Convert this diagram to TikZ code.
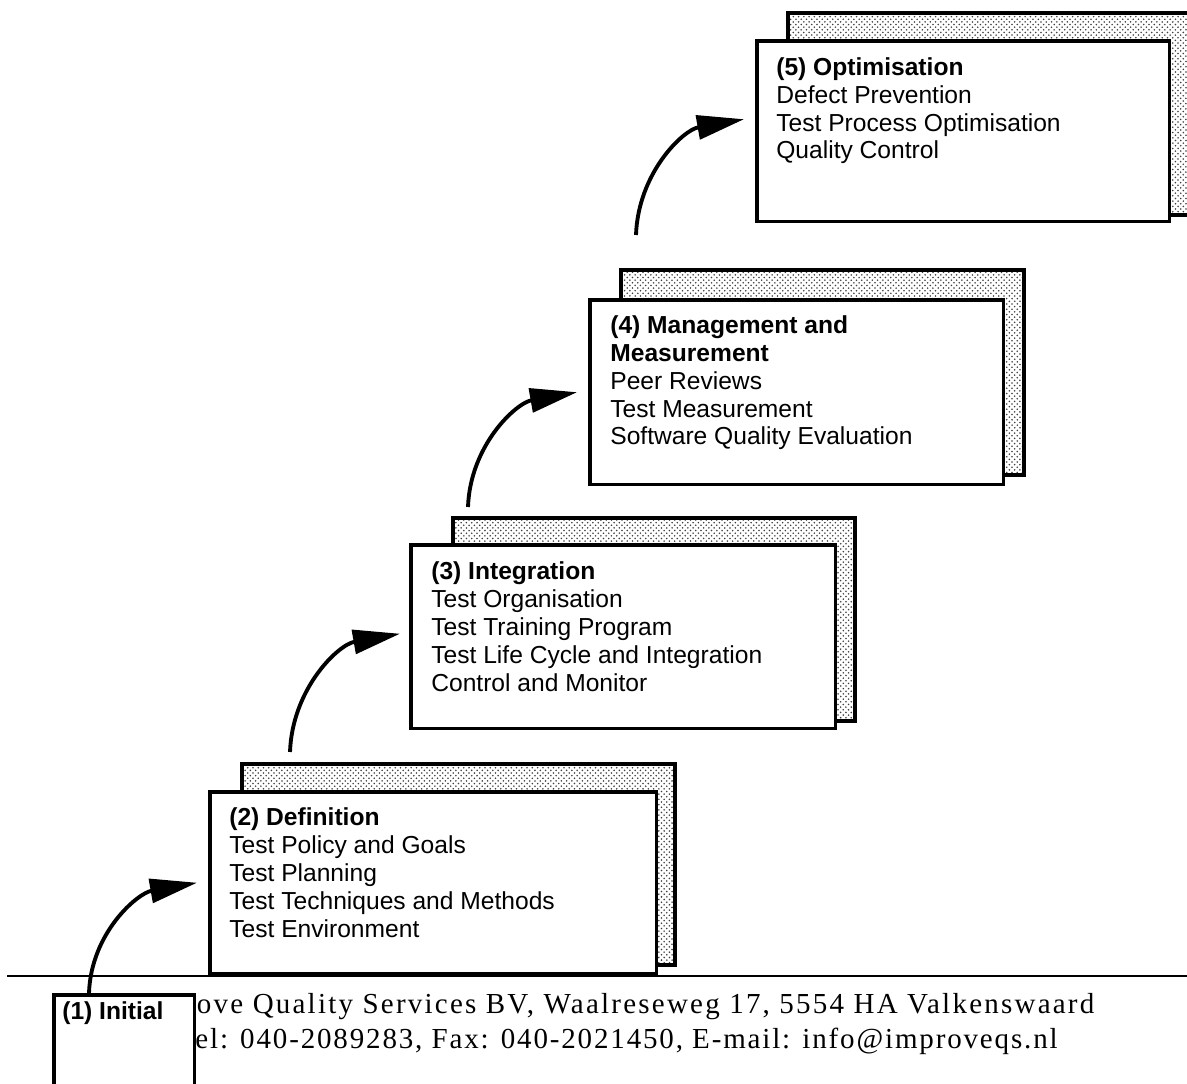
\documentclass[tikz,border=0pt]{standalone}
\usepackage{fontspec}
\setmainfont{Liberation Serif}
\setsansfont{Liberation Sans}
\usetikzlibrary{arrows.meta,calc,patterns}

\begin{document}
\begin{tikzpicture}[x=0.02cm,y=-0.02cm,
    frontbox/.style={draw=black,fill=white,line width=2pt,anchor=north west,inner sep=0pt},
    backbox/.style={draw=black,line width=2pt,pattern=crosshatch dots,pattern color=black!75},
    boxtext/.style={anchor=base west,align=left,inner sep=0pt,font=\sffamily\fontsize{14}{15.9}\selectfont},
    stair/.style={line width=2.2pt,-{Triangle[length=0.94cm,width=0.48cm]}},
    foot/.style={anchor=base,inner sep=0pt,font=\fontsize{16.5}{20}\selectfont\addfontfeature{LetterSpace=7.7}}]
    \useasboundingbox (0,0) rectangle (1187,1084);
    \clip (0,0) rectangle (1187,1084);
    % shadow boxes
    \draw [backbox] (242,764) rectangle (675,965);
    \draw [backbox] (453,518) rectangle (855,721);
    \draw [backbox] (621,270) rectangle (1024,475);
    \draw [backbox] (788,13) rectangle (1200,215);
    % levels (text nodes sit on the baseline of their last line)
    \node [frontbox,minimum width=8.94cm,minimum height=3.64cm] (l2) at (208,790) {};
    \node [boxtext] (t2) at (229,937) {\textbf{(2) Definition}\\Test Policy and Goals\\Test Planning\\Test Techniques and Methods\\Test Environment};
    \node [frontbox,minimum width=8.5cm,minimum height=3.68cm] (l3) at (409,543) {};
    \node [boxtext] (t3) at (431,691) {\textbf{(3) Integration}\\Test Organisation\\Test Training Program\\Test Life Cycle and Integration\\Control and Monitor};
    \node [frontbox,minimum width=8.28cm,minimum height=3.7cm] (l4) at (588,298) {};
    \node [boxtext] (t4) at (610,445) {\textbf{(4) Management and}\\\textbf{Measurement}\\Peer Reviews\\Test Measurement\\Software Quality Evaluation};
    \node [frontbox,minimum width=8.26cm,minimum height=3.62cm] (l5) at (755,39) {};
    \node [boxtext] (t5) at (776,159) {\textbf{(5) Optimisation}\\Defect Prevention\\Test Process Optimisation\\Quality Control};
    % footer
    \draw [line width=1.1pt] (7,976) -- (1187,976);
    \node [foot] (addr) at (613,1013) {Improve Quality Services BV, Waalreseweg 17, 5554 HA Valkenswaard};
    \node [foot,anchor=base east,font=\fontsize{16.5}{20}\selectfont\addfontfeature{LetterSpace=6.4}] (tel) at (1058,1048) {Tel: 040-2089283, Fax: 040-2021450, E-mail: info@improveqs.nl};
    \node [frontbox,minimum width=2.82cm,minimum height=2.4cm] (l1) at (52,993) {};
    \node [boxtext,font=\sffamily\bfseries\fontsize{14}{15.9}\selectfont] (t1) at (62,1019) {(1) Initial};
    % steps
    \coordinate (s1) at (89,993);
    \coordinate (s2) at (290,752);
    \coordinate (s3) at (468,507);
    \coordinate (s4) at (636,235);
    \draw [stair] (s1) to [out=88,in=190] ($(l2.west)+(-11,0)$);
    \draw [stair] (s2) to [out=88,in=190] ($(l3.west)+(-9,-3)$);
    \draw [stair] (s3) to [out=88,in=190] ($(l4.west)+(-11,0)$);
    \draw [stair] (s4) to [out=88,in=190] ($(l5.west)+(-11,-12)$);
\end{tikzpicture}
\end{document}
